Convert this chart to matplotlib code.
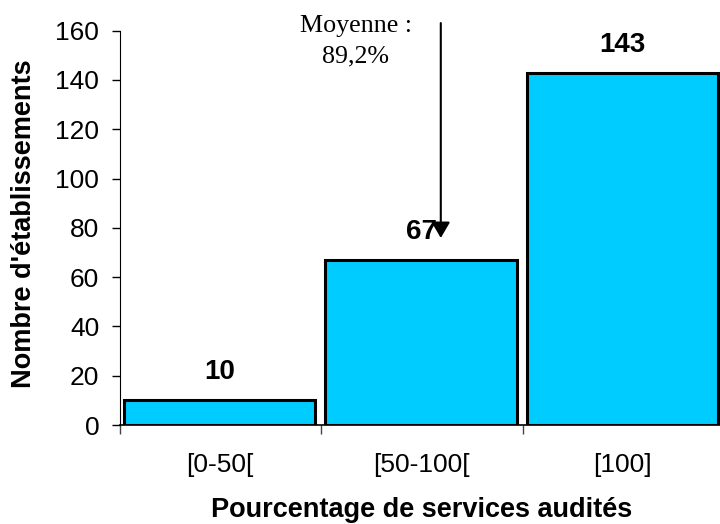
"""
Répartition des établissements selon le pourcentage de services audités.
Histogramme à trois classes avec annotation de la moyenne.
"""

import matplotlib
matplotlib.use("Agg")
import matplotlib.pyplot as plt
import numpy as np

# ---------------------------------------------------------------------------
# Données
# ---------------------------------------------------------------------------
classes = ["[0-50[", "[50-100[", "[100]"]
nb_etablissements = [10, 67, 143]
y_ticks = [0, 20, 40, 60, 80, 100, 120, 140, 160]

moyenne_lines = ["Moyenne :", "89,2%"]

BAR_COLOR = "#00CCFF"
SANS = ["Liberation Sans", "DejaVu Sans"]
SERIF = ["Liberation Serif", "DejaVu Serif"]

plt.rcParams["font.family"] = SANS


def plot_histogram(output_path: str) -> None:
    fig = plt.figure(figsize=(7.2, 5.24), dpi=100)
    ax = fig.add_axes([0.1667, 0.1889, 0.839, 0.7525])

    x = np.arange(len(classes)) + 0.495
    ax.bar(x, nb_etablissements, width=0.95, color=BAR_COLOR,
           edgecolor="black", linewidth=2.2, zorder=3)

    for xi, v in zip(x, nb_etablissements):
        ax.text(xi, v + 8.5, str(v), ha="center", va="baseline",
                fontsize=20, fontweight="bold")

    ax.set_xlim(0, len(classes))
    ax.set_ylim(0, 160)
    ax.set_yticks(y_ticks)

    # class boundaries carry the tick marks, centres carry the labels
    ax.set_xticks(np.arange(len(classes) + 1))
    ax.set_xticklabels([])
    ax.set_xticks(x, minor=True)
    ax.set_xticklabels(classes, minor=True)
    ax.tick_params(axis="x", which="minor", length=0, pad=20, labelsize=19)
    ax.tick_params(axis="x", which="major", length=6.5, width=1,
                   color="#444444")
    ax.tick_params(axis="y", length=6, width=1, labelsize=19, pad=9)

    for side in ("top", "right", "bottom"):
        ax.spines[side].set_visible(False)
    ax.axhline(0, color="black", linewidth=1.2, zorder=4, clip_on=False)

    ax.set_xlabel("Pourcentage de services audités", fontsize=19.5,
                  fontweight="bold")
    ax.set_ylabel("Nombre d'établissements", fontsize=19.5,
                  fontweight="bold")
    ax.xaxis.set_label_coords(0.5, -0.183)
    ax.yaxis.set_label_coords(-0.137, 0.51)

    # flèche de la moyenne
    ax.annotate("", xy=(1.593, 75.9), xytext=(1.593, 163.1),
                arrowprops=dict(arrowstyle="-|>,head_length=0.6,head_width=0.35",
                                color="black", lw=1.5, mutation_scale=16,
                                shrinkA=0, shrinkB=0),
                annotation_clip=False, zorder=6)
    for line, y in zip(moyenne_lines, (159.5, 147.3)):
        ax.text(1.171, y, line, ha="center", va="baseline",
                fontsize=18.7, family=SERIF)

    fig.savefig(output_path, dpi=100)
    plt.close(fig)


if __name__ == "__main__":
    plot_histogram("out.png")
